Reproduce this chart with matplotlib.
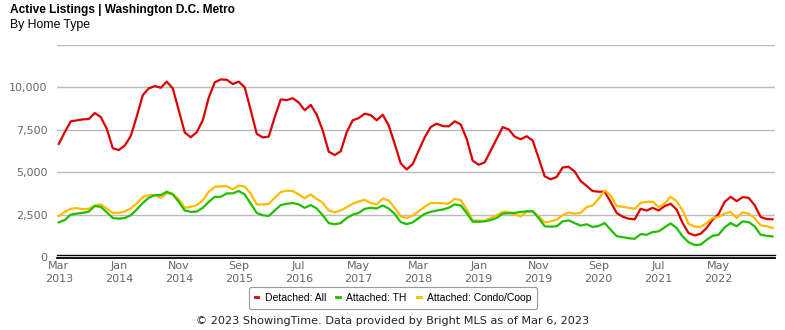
import numpy as np
import matplotlib
matplotlib.use("Agg")
import matplotlib.pyplot as plt
from matplotlib.lines import Line2D

# monthly values, Mar 2013 .. Feb 2023
detached = [6670, 7360, 8000, 8055, 8115, 8135, 8490, 8250, 7560, 6410,
            6310, 6570, 7140, 8290, 9540, 9940, 10080, 9980, 10340, 9940,
            8650, 7340, 7060, 7360, 8055, 9400, 10300, 10470, 10450, 10200,
            10340, 10000, 8650, 7260, 7050, 7100, 8250, 9290, 9250, 9360,
            9110, 8650, 8970, 8390, 7460, 6210, 6010, 6230, 7360, 8060,
            8190, 8450, 8370, 8060, 8390, 7760, 6670, 5520, 5160, 5480,
            6270, 7060, 7660, 7860, 7720, 7700, 8000, 7820, 6960, 5680,
            5440, 5580, 6270, 6960, 7660, 7520, 7100, 6940, 7120, 6870,
            5830, 4760, 4580, 4720, 5280, 5320, 5040, 4480, 4190, 3890,
            3850, 3850, 3250, 2600, 2380, 2260, 2220, 2840, 2740, 2900,
            2740, 3000, 3140, 2800, 2000, 1410, 1270, 1370, 1710, 2200,
            2540, 3250, 3550, 3290, 3530, 3490, 3060, 2360, 2240, 2220]

townhouse = [2040, 2180, 2500, 2560, 2600, 2680, 3000, 2960, 2640, 2300,
             2260, 2300, 2460, 2800, 3190, 3490, 3650, 3650, 3850, 3690,
             3250, 2740, 2660, 2680, 2900, 3250, 3550, 3550, 3750, 3750,
             3890, 3690, 3140, 2600, 2460, 2420, 2740, 3060, 3140, 3180,
             3100, 2900, 3060, 2860, 2460, 2000, 1930, 2000, 2300, 2500,
             2600, 2840, 2900, 2860, 3040, 2860, 2540, 2060, 1940, 2040,
             2300, 2540, 2660, 2740, 2800, 2900, 3100, 3040, 2600, 2080,
             2080, 2100, 2180, 2300, 2560, 2580, 2600, 2650, 2700, 2700,
             2300, 1810, 1790, 1810, 2100, 2160, 2000, 1850, 1930, 1770,
             1830, 2000, 1610, 1230, 1170, 1110, 1070, 1350, 1310, 1470,
             1510, 1750, 1980, 1710, 1210, 870, 710, 730, 1010, 1250,
             1310, 1750, 2000, 1810, 2100, 2060, 1810, 1310, 1250, 1210]

condo = [2400, 2660, 2840, 2880, 2820, 2840, 3040, 3100, 2860, 2600,
         2600, 2680, 2860, 3160, 3530, 3650, 3650, 3490, 3750, 3730,
         3390, 2900, 2960, 3060, 3330, 3850, 4130, 4170, 4170, 3990,
         4210, 4150, 3730, 3100, 3090, 3130, 3490, 3830, 3910, 3890,
         3690, 3470, 3690, 3430, 3190, 2740, 2640, 2740, 2940, 3140,
         3270, 3370, 3190, 3100, 3450, 3330, 2900, 2400, 2300, 2440,
         2700, 2960, 3180, 3190, 3160, 3140, 3430, 3350, 2800, 2160,
         2140, 2140, 2300, 2460, 2660, 2660, 2500, 2400, 2660, 2700,
         2400, 2040, 2100, 2200, 2460, 2620, 2560, 2600, 2940, 3040,
         3430, 3930, 3630, 3000, 2960, 2900, 2840, 3190, 3250, 3270,
         2940, 3160, 3550, 3290, 2740, 1960, 1790, 1770, 2000, 2300,
         2360, 2560, 2660, 2300, 2640, 2560, 2300, 1870, 1810, 1710]

tick_labels = ["Mar\n2013", "Jan\n2014", "Nov\n2014", "Sep\n2015", "Jul\n2016",
               "May\n2017", "Mar\n2018", "Jan\n2019", "Nov\n2019", "Sep\n2020",
               "Jul\n2021", "May\n2022"]
y_ticks = [0, 2500, 5000, 7500, 10000]

series_names = ["Detached: All", "Attached: TH", "Attached: Condo/Coop"]
colors = ["#dd0000", "#1fbf00", "#ffbb00"]

x = np.arange(len(detached))

fig = plt.figure(figsize=(7.85, 3.3), dpi=100)
ax = fig.add_axes([57 / 785, (330 - 257) / 330, 718 / 785, 212 / 330])

ax.plot(x, detached, color=colors[0], lw=1.6, zorder=3)
ax.plot(x, condo, color=colors[2], lw=1.6, zorder=3)
ax.plot(x, townhouse, color=colors[1], lw=1.6, zorder=4)

ax.set_xlim(-0.3, 119.4)
ax.set_ylim(0, 12500)
ax.set_yticks(y_ticks)
ax.set_yticklabels([f"{v:,}" for v in y_ticks])
ax.set_xticks(np.arange(0, 120, 10))
ax.set_xticklabels(tick_labels)

for v in [2500, 5000, 7500, 10000, 12500]:
    ax.axhline(v, color="#bbbbbb", lw=1, zorder=1)

for s in ax.spines.values():
    s.set_visible(False)
ax.tick_params(length=0, labelsize=8, labelcolor="#666666")
ax.tick_params(axis="y", pad=7)
ax.tick_params(axis="x", pad=3)
for lab in ax.get_xticklabels():
    lab.set_linespacing(1.3)

# double base line
for yy in [257.5, 254.5]:
    fig.add_artist(Line2D([57 / 785, 775 / 785], [(330 - yy) / 330] * 2,
                          transform=fig.transFigure, color="black",
                          lw=1.3 if yy > 256 else 1.0))

fig.text(10 / 785, 1 - 10 / 330, "Active Listings | Washington D.C. Metro",
         fontsize=8.6, fontweight="bold", family="Liberation Sans", va="center")
fig.text(10 / 785, 1 - 25 / 330, "By Home Type", fontsize=8.8,
         family="Liberation Sans", va="center")

handles = [Line2D([], [], color=c, lw=2) for c in colors]
leg = fig.legend(handles, series_names, loc="center",
                 bbox_to_anchor=(393 / 785, 1 - 298 / 330), ncol=3,
                 handlelength=0.35, handletextpad=0.6, columnspacing=1.0,
                 fancybox=True, framealpha=1, edgecolor="#999999",
                 prop={"family": "Liberation Sans", "size": 7.5},
                 borderpad=0.55)
leg.get_frame().set_linewidth(0.8)

fig.text(0.5, 1 - 321 / 330,
         "\u00a9 2023 ShowingTime. Data provided by Bright MLS as of Mar 6, 2023",
         fontsize=8.1, color="#222222", ha="center", va="center")

fig.savefig("out.png", dpi=100)
